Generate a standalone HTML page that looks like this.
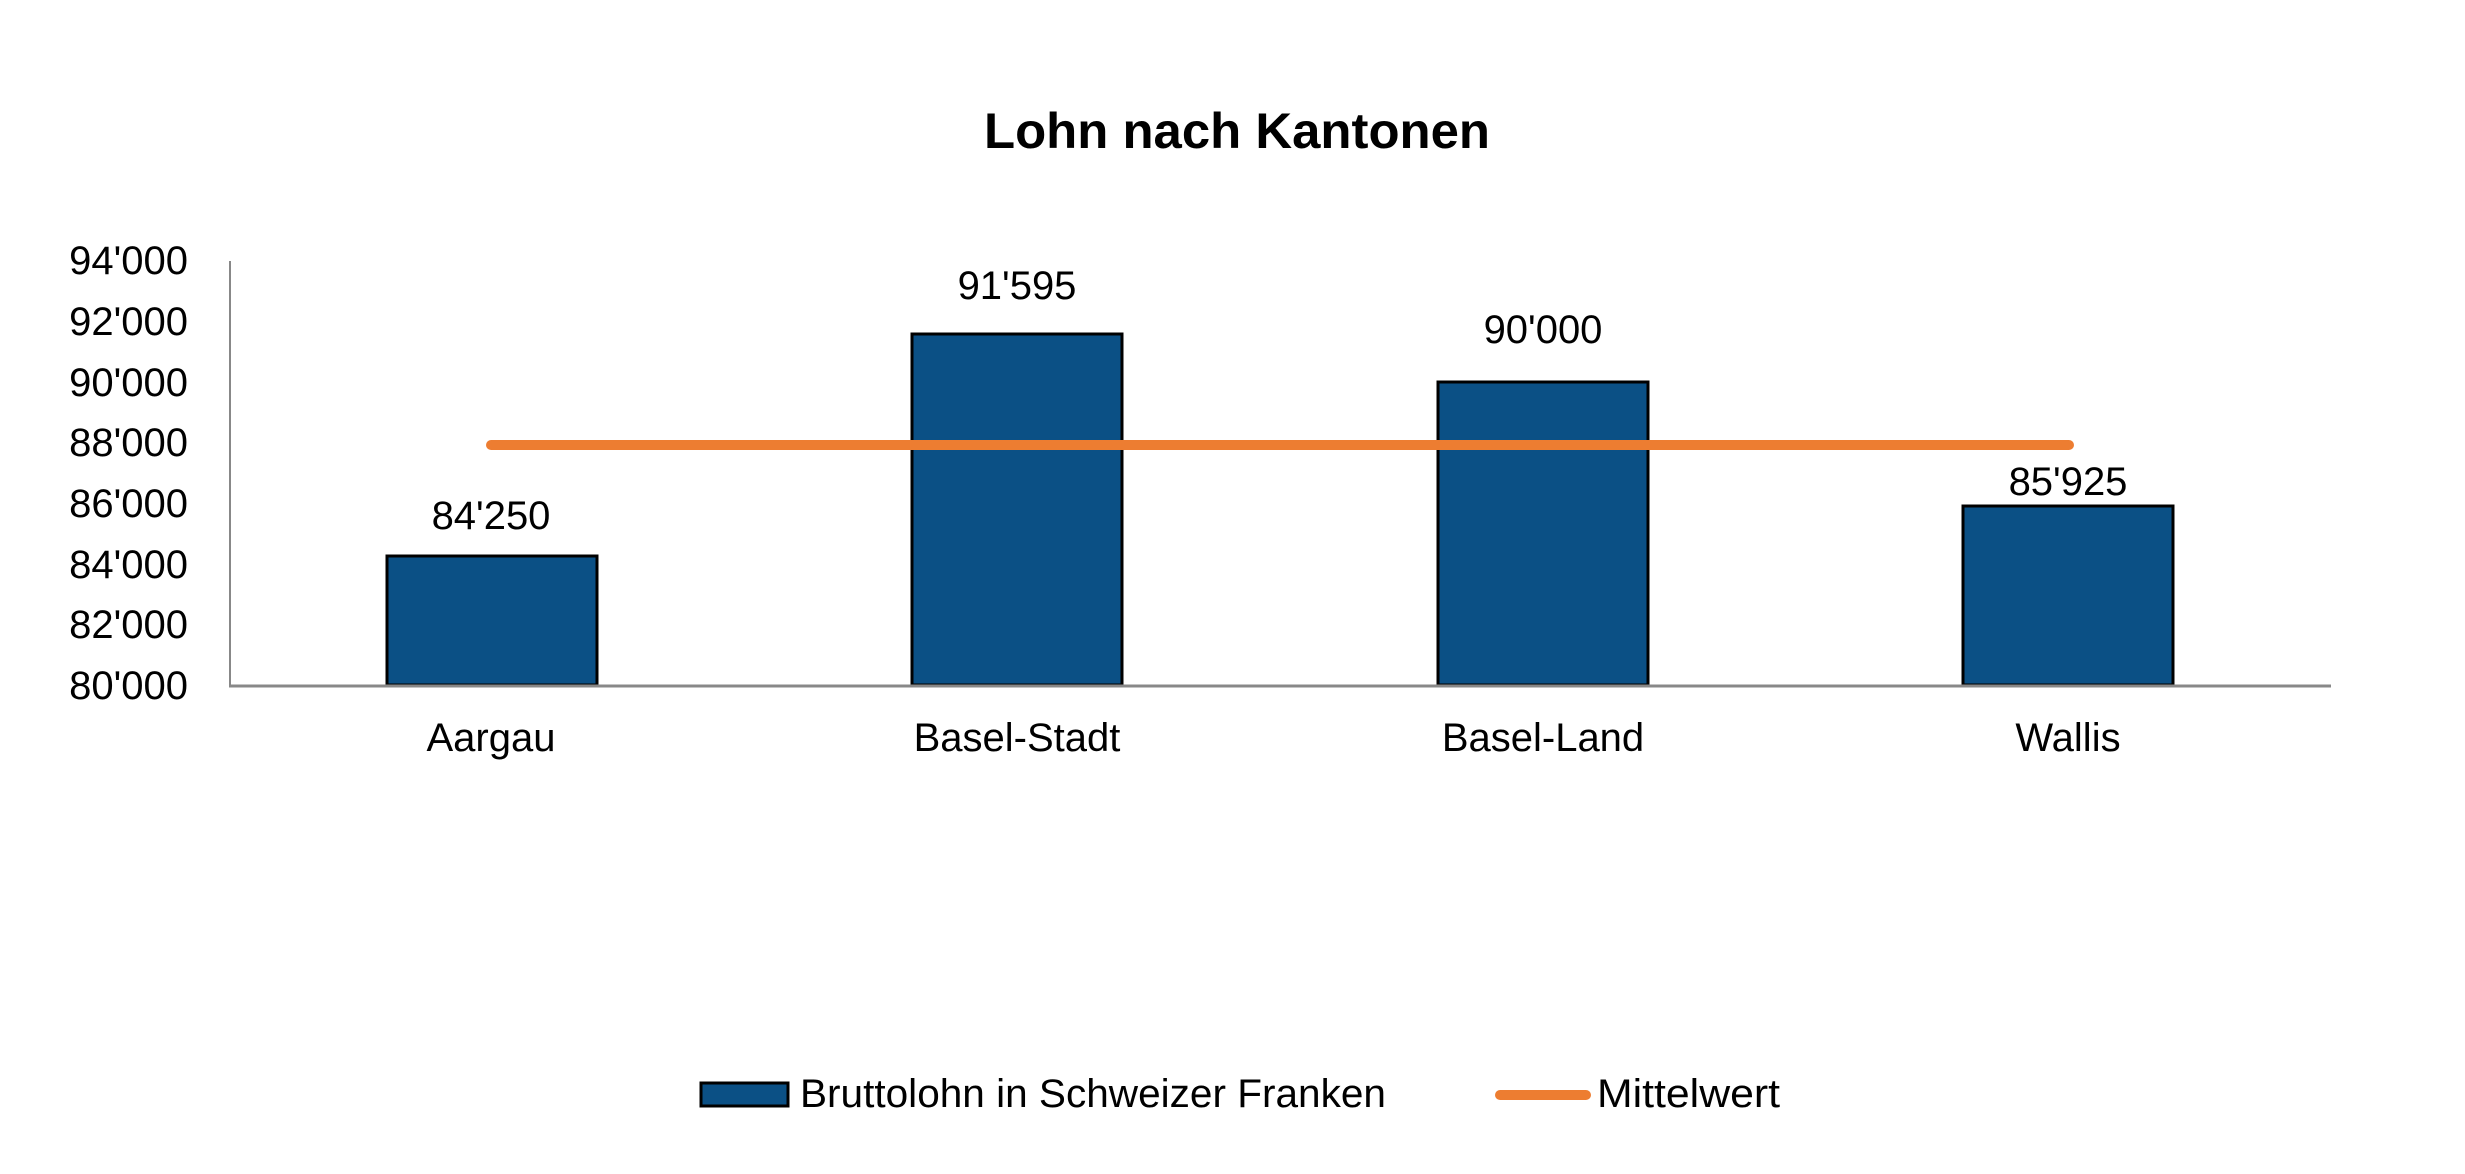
<!DOCTYPE html>
<html><head><meta charset="utf-8"><style>html,body{margin:0;padding:0;background:#fff}svg{display:block}</style></head>
<body>
<svg width="2465" height="1174" xmlns="http://www.w3.org/2000/svg" font-family="'Liberation Sans', sans-serif">
<rect width="2465" height="1174" fill="#fff"/>
<text x="1237" y="148" font-size="50" font-weight="bold" text-anchor="middle" textLength="506" lengthAdjust="spacingAndGlyphs">Lohn nach Kantonen</text>
<g font-size="40" text-anchor="end" fill="#000">
<text x="188" y="274">94'000</text>
<text x="188" y="335">92'000</text>
<text x="188" y="396">90'000</text>
<text x="188" y="456">88'000</text>
<text x="188" y="517">86'000</text>
<text x="188" y="578">84'000</text>
<text x="188" y="638">82'000</text>
<text x="188" y="699">80'000</text>
</g>
<line x1="230" y1="261" x2="230" y2="686" stroke="#888" stroke-width="2"/>
<g fill="#0b5085" stroke="#000" stroke-width="3">
<rect x="387" y="556" width="210" height="129"/>
<rect x="912" y="334" width="210" height="351"/>
<rect x="1438" y="382" width="210" height="303"/>
<rect x="1963" y="506" width="210" height="179"/>
</g>
<line x1="229" y1="686" x2="2331" y2="686" stroke="#888" stroke-width="3"/>
<line x1="491" y1="445" x2="2069" y2="445" stroke="#ed7d31" stroke-width="10" stroke-linecap="round"/>
<g font-size="40" text-anchor="middle" fill="#000">
<text x="491" y="529">84'250</text>
<text x="1017" y="299">91'595</text>
<text x="1543" y="343">90'000</text>
<text x="2068" y="495">85'925</text>
<text x="491" y="751">Aargau</text>
<text x="1017" y="751">Basel-Stadt</text>
<text x="1543" y="751">Basel-Land</text>
<text x="2068" y="751">Wallis</text>
</g>
<rect x="701" y="1083" width="87" height="23" fill="#0b5085" stroke="#000" stroke-width="3"/>
<text x="800" y="1107" font-size="40" textLength="586" lengthAdjust="spacingAndGlyphs">Bruttolohn in Schweizer Franken</text>
<line x1="1500" y1="1095" x2="1586" y2="1095" stroke="#ed7d31" stroke-width="10" stroke-linecap="round"/>
<text x="1597" y="1107" font-size="40" textLength="183" lengthAdjust="spacingAndGlyphs">Mittelwert</text>
</svg>
</body></html>
